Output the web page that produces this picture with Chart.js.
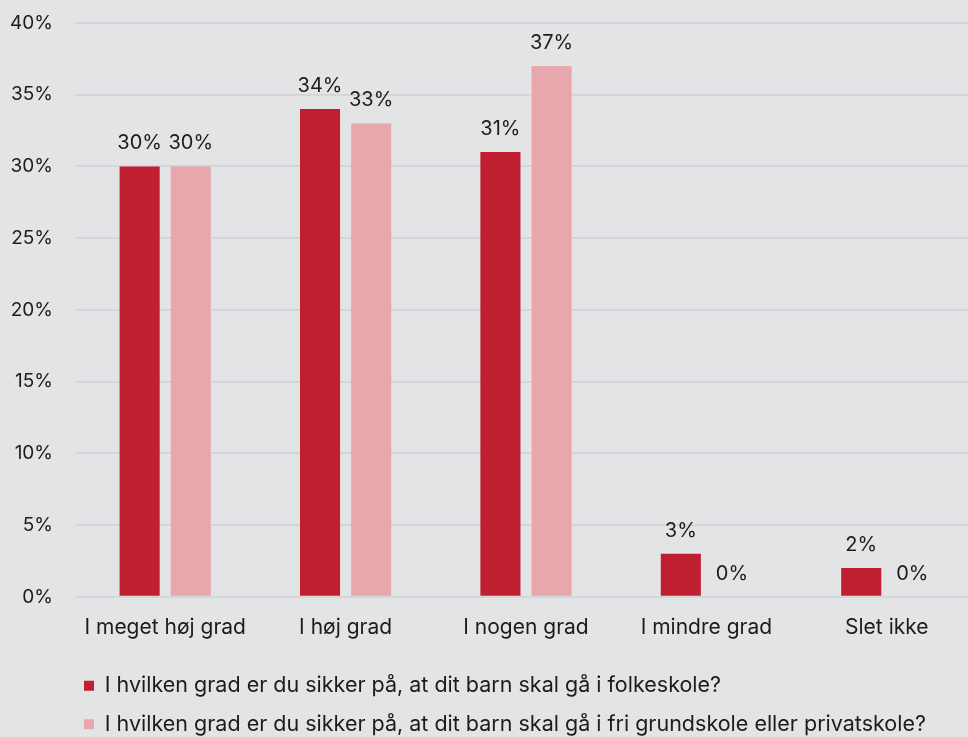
<!DOCTYPE html>
<html>
<head>
<meta charset="utf-8">
<script src="https://cdn.jsdelivr.net/npm/chart.js@4/dist/chart.umd.min.js"></script>
<style>
  html, body { margin: 0; padding: 0; background: #e3e4e6; overflow: hidden; }
  #wrap { width: 968px; height: 737px; overflow: hidden; }
</style>
</head>
<body>
<div id="wrap"><canvas id="chart" width="977" height="745"></canvas></div>
<script>
var categories = ['I meget høj grad', 'I høj grad', 'I nogen grad', 'I mindre grad', 'Slet ikke'];
var folkeskole = [30, 34, 31, 3, 2];
var friskole = [30, 33, 37, 0, 0];
var seriesNames = [
  'I hvilken grad er du sikker på, at dit barn skal gå i folkeskole?',
  'I hvilken grad er du sikker på, at dit barn skal gå i fri grundskole eller privatskole?'
];
var yTicks = [0, 5, 10, 15, 20, 25, 30, 35, 40];

var FONT = 'Inter, "Noto Sans", sans-serif';
var TEXT = '#1c1c1c';

// value labels above each bar
var barLabels = {
  id: 'barLabels',
  afterDatasetsDraw: function(chart) {
    var ctx = chart.ctx;
    ctx.save();
    ctx.font = '20px ' + FONT;
    ctx.fillStyle = TEXT;
    ctx.textAlign = 'center';
    ctx.textBaseline = 'middle';
    chart.data.datasets.forEach(function(ds, i) {
      chart.getDatasetMeta(i).data.forEach(function(bar, j) {
        ctx.fillText(ds.data[j] + '%', bar.x, bar.y - 23);
      });
    });
    ctx.restore();
  }
};

// push the legend in so it lines up under the plot
var legendShift = {
  id: 'legendShift',
  afterLayout: function(chart) {
    chart.legend.left = 67;
  }
};

new Chart(document.getElementById('chart'), {
  type: 'bar',
  data: {
    labels: categories,
    datasets: [{
      label: seriesNames[0],
      data: folkeskole,
      backgroundColor: '#c01f32',
      categoryPercentage: 0.567,
      barPercentage: 0.784
    }, {
      label: seriesNames[1],
      data: friskole,
      backgroundColor: '#e8a7ad',
      categoryPercentage: 0.567,
      barPercentage: 0.784
    }]
  },
  options: {
    responsive: false,
    animation: false,
    layout: { padding: { top: 23, right: 0, left: 0, bottom: 0 } },
    scales: {
      x: {
        grid: { display: false, drawTicks: false },
        border: { display: false },
        ticks: { color: TEXT, font: { family: FONT, size: 21 }, padding: 18 }
      },
      y: {
        min: 0,
        max: 40,
        afterFit: function(scale) {
          scale.width = 75;
          scale.paddingTop = 0;
        },
        afterBuildTicks: function(scale) {
          scale.ticks = yTicks.map(function(v) { return { value: v }; });
        },
        grid: { color: '#d5d6d9', lineWidth: 2, drawTicks: false },
        border: { display: false },
        ticks: {
          color: TEXT,
          font: { family: FONT, size: 19 },
          padding: 22,
          callback: function(v) { return v + '%'; }
        }
      }
    },
    plugins: {
      tooltip: { enabled: false },
      legend: {
        position: 'bottom',
        align: 'start',
        labels: {
          color: TEXT,
          font: { family: FONT, size: 21.5 },
          boxWidth: 10,
          boxHeight: 10,
          padding: 17
        }
      }
    }
  },
  plugins: [barLabels, legendShift]
});
</script>
</body>
</html>
